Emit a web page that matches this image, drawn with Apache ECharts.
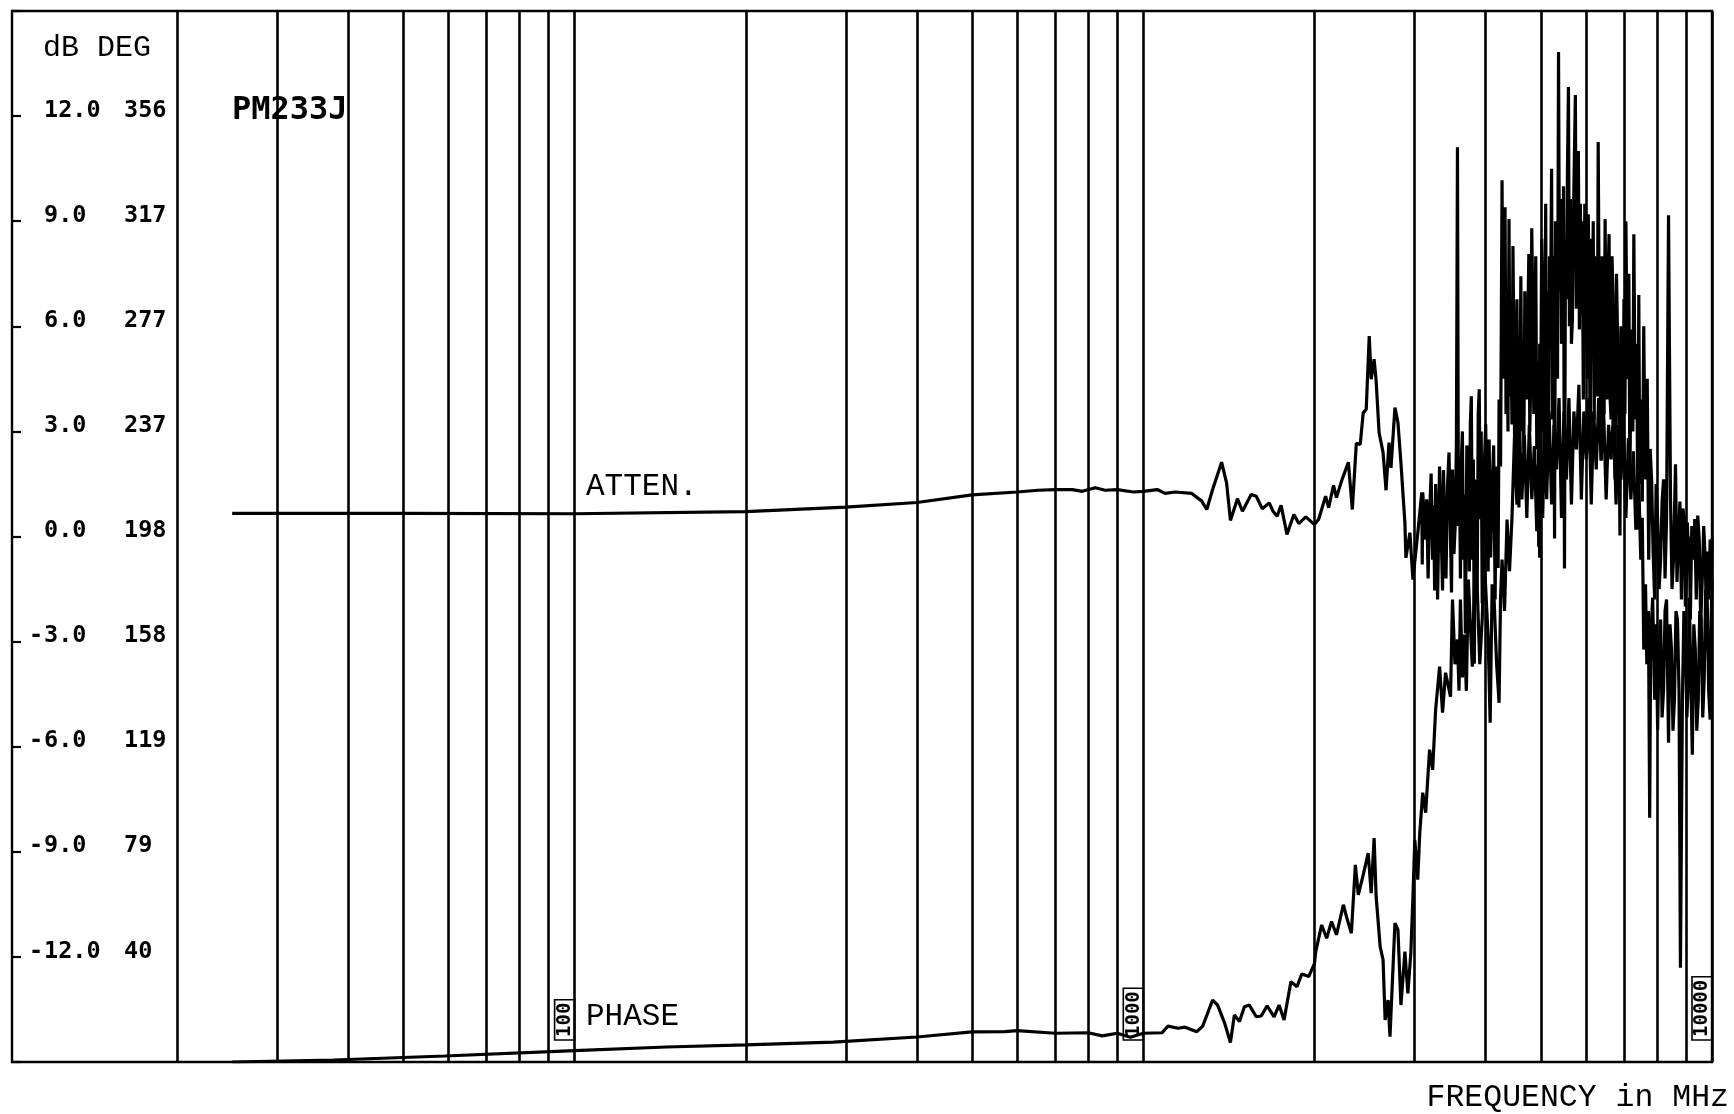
<!DOCTYPE html>
<html><head><meta charset="utf-8">
<script src="https://cdn.jsdelivr.net/npm/echarts@6/dist/echarts.min.js"></script>
<style>html,body{margin:0;padding:0;background:#fff}#c{width:1734px;height:1114px}</style>
</head><body><div id="c"></div><script>
// ---- tick labels ----
const dbTicks = [12, 9, 6, 3, 0, -3, -6, -9, -12];
const dbLabels = ['12.0', '9.0', '6.0', '3.0', '0.0', '3.0', '6.0', '9.0', '12.0'];
const degLabels = ['356', '317', '277', '237', '198', '158', '119', '79', '40'];
// ---- vertical grid lines (MHz) ----
const gridFreqs = [20,30,40,50,60,70,80,90,100,200,300,400,500,600,700,800,900,1000,2000,3000,4000,5000,6000,7000,8000,9000,10000];
const markerFreqs = [100, 1000, 10000];
const markerLabels = ['100', '1000', '10000'];
// ---- ATTEN (dB) : [MHz, dB] ----
const attenData = [
[25,0.66],[50,0.66],[100,0.65],[200,0.71],[300,0.84],[400,0.97],[500,1.19],[600,1.27],[653,1.32],[700,1.34],
[750,1.34],[781,1.29],[823,1.39],[857,1.32],[900,1.34],[960,1.27],[1000,1.29],[1058,1.34],[1092,1.23],[1137,1.27],
[1217,1.23],[1267,1.01],[1293,0.77],[1324,1.34],[1373,2.12],[1401,1.53],[1423,0.46],[1464,1.08],[1494,0.72],[1548,1.20],
[1580,1.15],[1619,0.79],[1665,0.96],[1691,0.72],[1719,0.58],[1747,0.89],[1789,0.06],[1840,0.63],[1877,0.37],[1931,0.56],
[2000,0.34],[2034,0.49],[2092,1.15],[2118,0.82],[2160,1.46],[2186,1.11],[2231,1.58],[2294,2.12],[2331,0.77],[2369,2.66],
[2407,2.63],[2436,3.53],[2466,3.63],[2496,5.72],[2516,4.49],[2546,5.06],[2567,4.44],[2598,2.96],[2640,2.40],[2672,1.32],
[2704,2.68],[2726,1.96],[2770,3.68],[2804,3.25],[2838,2.11],[2884,0.39],[2896,-0.61],[2943,0.11],[2979,-1.23],[3039,0.11],
[3088,1.26],[3094,-0.8],[3100,1.26],[3137,-0.09],[3150,1.06],[3168,-1.2],[3187,0.63],[3207,1.8],[3227,-0.66],[3240,0.9],
[3253,-1.54],[3266,1.5],[3279,0.49],[3292,-1.8],[3305,-0.09],[3318,2.0],[3332,1.06],[3345,-0.3],[3359,-1.54],[3372,1.9],
[3386,0.49],[3406,-1.2],[3427,1.43],[3448,2.4],[3469,-0.09],[3483,-1.6],[3497,1.91],[3518,-0.5],[3539,0.49],[3553,2.8],
[3568,11.11],[3582,0.3],[3597,1.91],[3611,-1.2],[3625,2.17],[3640,3.0],[3655,-0.66],[3670,1.2],[3684,-2.77],[3706,2.6],
[3729,1.63],[3744,-1.0],[3759,3.23],[3774,4.0],[3789,-0.66],[3805,2.2],[3820,-3.63],[3835,0.8],[3850,1.63],[3865,-1.5],
[3881,3.54],[3897,4.2],[3913,0.49],[3928,3.0],[3944,-1.91],[3960,-0.5],[3976,1.91],[4000,3.2],[4024,0.09],[4040,-1.0],
[4056,2.77],[4081,-0.6],[4106,1.31],[4131,2.6],[4156,-1.80],[4172,2.0],[4189,0.49],[4206,-0.9],[4223,3.91],[4248,2.0],
[4274,10.17],[4291,4.5],[4308,6.77],[4326,9.40],[4343,3.5],[4361,5.91],[4378,3.0],[4396,9.06],[4413,4.0],[4431,5.91],
[4449,3.2],[4467,8.29],[4485,5.0],[4503,1.43],[4521,4.5],[4539,6.77],[4557,3.0],[4576,0.83],[4594,3.5],[4612,7.43],
[4631,3.0],[4650,4.49],[4668,2.5],[4687,7.0],[4706,5.5],[4725,3.91],[4744,6.0],[4763,8.06],[4782,3.0],[4801,4.49],
[4820,8.8],[4840,6.77],[4860,3.5],[4879,5.69],[4899,8.0],[4919,2.49],[4938,5.0],[4958,-0.29],[4978,5.5],[4998,3.91],
[5018,8.5],[5038,6.77],[5058,3.0],[5079,4.86],[5100,9.5],[5120,2.49],[5140,7.0],[5161,3.17],[5181,8.0],[5202,6.77],
[5223,10.5],[5244,3.34],[5265,8.0],[5286,-0.06],[5307,9.0],[5329,6.77],[5350,4.5],[5372,13.83],[5393,7.0],[5415,9.63],
[5437,5.5],[5459,5.91],[5481,10.0],[5503,-0.91],[5525,8.5],[5547,6.77],[5570,10.5],[5592,12.83],[5614,6.0],[5637,9.63],
[5660,5.5],[5683,6.2],[5717,10.0],[5751,12.6],[5775,6.5],[5798,8.2],[5821,11.0],[5845,5.91],[5868,9.5],[5892,6.34],
[5915,9.0],[5939,3.91],[5975,9.5],[6012,7.34],[6036,4.5],[6060,9.2],[6084,6.0],[6108,2.49],[6133,8.5],[6158,5.34],
[6182,9.0],[6207,3.34],[6232,8.0],[6258,6.77],[6283,4.0],[6308,11.26],[6333,6.5],[6358,4.49],[6384,2.17],[6410,8.0],
[6435,6.77],[6461,3.5],[6487,9.06],[6513,5.0],[6540,3.91],[6566,7.5],[6592,8.63],[6618,4.0],[6645,3.34],[6671,8.0],
[6698,6.77],[6725,3.0],[6752,1.63],[6793,7.5],[6834,5.06],[6861,3.0],[6889,0.03],[6917,6.0],[6945,3.91],[6973,2.0],
[7001,6.77],[7029,3.5],[7057,9.0],[7085,6.0],[7114,4.49],[7142,7.5],[7171,1.63],[7200,4.5],[7229,5.91],[7258,3.0],
[7287,8.63],[7316,5.0],[7346,3.34],[7375,5.5],[7405,0.2],[7435,6.89],[7465,1.5],[7495,3.91],[7540,1.0],[7586,6.0],
[7616,3.0],[7647,1.63],[7693,4.5],[7739,-0.66],[7786,2.5],[7833,1.57],[7880,-0.5],[7928,-1.8],[7976,1.5],[8024,0.49],
[8072,-1.5],[8121,-0.66],[8170,1.0],[8219,1.63],[8269,-1.2],[8319,0.49],[8386,9.17],[8454,1.06],[8505,-1.5],[8556,-0.66],
[8626,2.06],[8678,-1.3],[8730,-0.09],[8782,1.0],[8835,-1.8],[8888,0.8],[8942,0.49],[8978,-2.0],[9015,-1.23],[9051,0.4],
[9087,-0.66],[9123,0.0],[9160,-2.37],[9215,0.3],[9271,-0.66],[9327,0.5],[9383,-1.8],[9440,0.6],[9496,-0.09],[9554,-2.5],
[9612,-1.23],[9670,0.3],[9729,-0.66],[9768,-2.0],[9807,-0.43],[9866,-1.8],[9925,-0.09],[9962,-1.5],[10000,-0.06]
];
// ---- PHASE (deg) : [MHz, deg] ----
const phaseData = [
[25,0.5],[37.7,1.25],[59.1,2.76],[100,4.79],[145,6.14],[200,6.9],[285,8.0],[400,9.9],[500,11.8],[571,11.9],
[600,12.3],[700,11.3],[800,11.5],[847,10.3],[900,11.3],[949,9.8],[1000,11.3],[1079,11.5],[1105,14.0],[1151,13.2],
[1184,13.6],[1242,11.9],[1272,14.0],[1324,23.8],[1351,21.9],[1390,15.1],[1423,7.8],[1446,18.2],[1476,15.7],[1506,21.3],
[1536,21.9],[1580,17.5],[1612,17.8],[1651,21.6],[1698,17.5],[1733,21.9],[1768,16.3],[1818,30.7],[1863,28.8],[1900,33.6],
[1954,32.6],[2000,37.6],[2010,42.0],[2059,52.0],[2101,47.0],[2143,53.3],[2186,48.3],[2248,59.6],[2276,55.2],[2322,48.9],
[2360,74.6],[2388,63.3],[2436,70.8],[2486,79.0],[2516,64.0],[2546,84.7],[2567,62.7],[2609,43.9],[2640,38.9],[2662,16.3],
[2694,23.8],[2715,10.0],[2770,52.7],[2804,50.2],[2838,21.9],[2884,42.0],[2919,26.3],[2954,41.5],[2978,61.4],[3002,84.0],
[3038,69.0],[3063,86.6],[3100,101.7],[3137,94.2],[3187,117.9],[3227,110.3],[3266,132.9],[3319,149.1],[3359,131.8],[3400,146.8],
[3469,137.8],[3497,174.3],[3532,150],[3568,159.3],[3590,140],[3611,174.3],[3640,145],[3669,161.1],[3699,140],[3729,181.8],
[3759,165],[3789,149.1],[3827,185],[3866,178.1],[3905,150],[3944,166.8],[3976,190],[4008,189.3],[4040,160],[4073,128.0],
[4106,180],[4139,174.3],[4181,150],[4223,135.5],[4248,175],[4274,189.3],[4317,170],[4361,204.4],[4405,185],[4449,205],
[4494,235],[4539,210],[4585,240],[4631,211.9],[4678,236],[4725,205],[4773,240],[4821,212],[4870,232],[4919,200],
[4948,225],[4978,190],[5008,230],[5038,205],[5079,240],[5120,212],[5171,245],[5223,210],[5276,240],[5329,223.2],
[5383,250],[5437,205],[5492,245],[5547,219.4],[5603,250],[5660,210],[5717,245],[5775,230.7],[5833,255],[5892,211.9],
[5952,245],[6012,227.0],[6072,250],[6133,210],[6195,245],[6258,223.2],[6321,250],[6384,226.6],[6449,245],[6514,211.9],
[6579,240],[6645,227.0],[6712,245],[6780,210],[6848,240],[6917,219.4],[6987,240],[7057,205],[7128,235],[7200,211.9],
[7273,230],[7346,200.6],[7420,225],[7495,189.3],[7540,205],[7586,155.5],[7640,180],[7680,150],[7730,170],[7770,92.3],
[7802,159.3],[7865,175],[7928,136.7],[7976,165],[8024,125.4],[8072,155],[8121,166.8],[8170,130],[8219,140.4],[8269,170],
[8319,174.3],[8386,120.5],[8437,165],[8488,155.5],[8539,125],[8590,136.7],[8642,170],[8695,166.8],[8750,140],[8800,35.9],
[8871,136.7],[8925,170],[8979,159.3],[9033,130],[9087,144.2],[9123,175],[9160,174.3],[9234,116.0],[9290,165],[9346,155.5],
[9402,125],[9459,136.7],[9516,170],[9573,166.8],[9631,130],[9689,144.2],[9748,178],[9807,174.3],[9866,140],[9925,129.2],
[9962,165],[10000,181.8]
];

const plotFont = 'DejaVu Sans Mono';
const typeFont = 'Liberation Mono';

const chart = echarts.init(document.getElementById('c'), null, {renderer: 'canvas'});

const gridLineData = gridFreqs.map(function (f) {
  const item = {xAxis: f};
  const i = markerFreqs.indexOf(f);
  if (i >= 0) {
    item.label = {
      show: true, formatter: markerLabels[i], position: 'insideStartTop',
      fontFamily: plotFont, fontWeight: 'bold', fontSize: 19, color: '#000',
      borderColor: '#000', borderWidth: 1.6, padding: [1, 3, 0, 3], distance: [22, 0]
    };
  }
  return item;
});

const labelRich = {fontFamily: plotFont, fontWeight: 'bold', fontSize: 23.5, color: '#000'};

chart.setOption({
  animation: false,
  backgroundColor: '#fff',
  grid: {left: 12, right: 22, top: 11, bottom: 52, show: true, borderColor: '#000', borderWidth: 2.4, backgroundColor: 'transparent'},
  xAxis: {
    type: 'log', logBase: 10, min: 10.25, max: 10000,
    axisLine: {show: false}, axisTick: {show: false}, axisLabel: {show: false}, splitLine: {show: false}
  },
  yAxis: [{
    type: 'value', min: -15, max: 15, interval: 3, position: 'left',
    axisLine: {show: false}, splitLine: {show: false},
    axisTick: {show: true, inside: true, length: 9, lineStyle: {color: '#000', width: 2.2}},
    axisLabel: {
      show: true, inside: true, margin: 17, color: '#000', padding: [0, 0, 11, 0],
      formatter: function (v) {
        const i = dbTicks.indexOf(v);
        if (i < 0) return '';
        return '{s|' + (v < 0 ? '-' : ' ') + '}{a|' + dbLabels[i] + '}{b|' + degLabels[i] + '}';
      },
      rich: {
        s: Object.assign({width: 15, align: 'left'}, labelRich),
        a: Object.assign({width: 80, align: 'left'}, labelRich),
        b: Object.assign({align: 'left'}, labelRich)
      }
    }
  }, {
    type: 'value', min: 0.5, max: 395.5, show: false, splitLine: {show: false}
  }],
  graphic: [
    {type: 'text', x: 43, y: 48, silent: true, style: {text: 'dB DEG', fontFamily: typeFont, fontSize: 30, fill: '#000', align: 'left', verticalAlign: 'middle'}},
    {type: 'text', x: 232, y: 111, silent: true, style: {text: 'PM233J', fontFamily: plotFont, fontWeight: 'bold', fontSize: 32, fill: '#000', align: 'left', verticalAlign: 'middle'}},
    {type: 'text', x: 586, y: 487, silent: true, style: {text: 'ATTEN.', fontFamily: typeFont, fontSize: 31, fill: '#000', align: 'left', verticalAlign: 'middle'}},
    {type: 'text', x: 586, y: 1017, silent: true, style: {text: 'PHASE', fontFamily: typeFont, fontSize: 31, fill: '#000', align: 'left', verticalAlign: 'middle'}},
    {type: 'text', x: 1729, y: 1098, silent: true, style: {text: 'FREQUENCY in MHz', fontFamily: typeFont, fontSize: 31.5, fill: '#000', align: 'right', verticalAlign: 'middle'}}
  ],
  series: [{
    name: 'ATTEN.', type: 'line', yAxisIndex: 0, data: attenData,
    showSymbol: false, symbol: 'none', lineStyle: {color: '#000', width: 3.2}, silent: true,
    markLine: {
      silent: true, symbol: ['none', 'none'], animation: false,
      lineStyle: {color: '#000', width: 2.6, type: 'solid'},
      label: {show: false}, emphasis: {disabled: true},
      data: gridLineData
    }
  }, {
    name: 'PHASE', type: 'line', yAxisIndex: 1, data: phaseData,
    showSymbol: false, symbol: 'none', lineStyle: {color: '#000', width: 3.2}, silent: true
  }]
});
</script></body></html>
